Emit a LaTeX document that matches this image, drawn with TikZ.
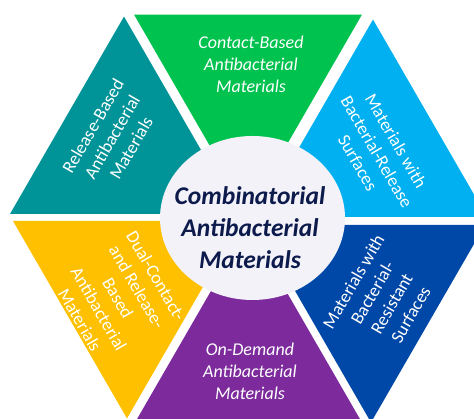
\documentclass[tikz,border=0pt]{standalone}
\usepackage{fontspec}
\setmainfont{Carlito}

\definecolor{cGreen}{RGB}{0,194,78}
\definecolor{cTeal}{RGB}{0,148,153}
\definecolor{cSky}{RGB}{0,176,240}
\definecolor{cNavy}{RGB}{0,72,168}
\definecolor{cPurple}{RGB}{124,42,156}
\definecolor{cYellow}{RGB}{255,192,0}
\definecolor{cHub}{RGB}{242,242,248}
\definecolor{cInk}{RGB}{12,26,76}

\begin{document}
\begin{tikzpicture}[x=1pt,y=1pt,
  segtext/.style={text=white, align=center, inner sep=0pt,
    font=\fontsize{18}{22}\selectfont},
  segtextit/.style={segtext, font=\fontsize{18}{22}\selectfont\itshape},
  hubtext/.style={text=cInk, align=center, inner sep=0pt,
    font=\fontsize{25.5}{32}\selectfont\bfseries\itshape}]
\useasboundingbox (0,0) rectangle (474,419);
\clip (0,0) rectangle (474,419);

% inner corners of the six wedges (each wedge pushed slightly outwards)
\coordinate (gA) at (248,207);
\coordinate (tA) at (238,205);
\coordinate (bA) at (259,202);
\coordinate (dA) at (257,194);
\coordinate (pA) at (248.5,193);
\coordinate (yA) at (241,198);

% the six equilateral wedges of the hexagon
\fill[cGreen]  (gA) -- ++(60:228)  -- ++(180:228) -- cycle;
\fill[cTeal]   (tA) -- ++(120:228) -- ++(240:228) -- cycle;
\fill[cSky]    (bA) -- ++(0:228)   -- ++(120:228) -- cycle;
\fill[cNavy]   (dA) -- ++(0:228)   -- ++(240:228) -- cycle;
\fill[cPurple] (pA) -- ++(-60:228) -- ++(180:228) -- cycle;
\fill[cYellow] (yA) -- ++(180:228) -- ++(300:228) -- cycle;

% central disc
\fill[cHub] (252.5,201) ellipse [x radius=92.5, y radius=82];
\node[hubtext] (hub) at (250,191) {Combinatorial\\Antibacterial\\Materials};

% wedge labels
\node[segtextit] (contact) at (251,355) {Contact-Based\\Antibacterial\\Materials};
\node[segtext, rotate=60] (release) at (112,282) {Release-Based\\Antibacterial\\Materials};
\node[segtext, rotate=-60] (relsurf) at (377,267) {Materials with\\Bacterial-Release\\Surfaces};
\node[segtext, rotate=60] (resist) at (382,121) {Materials with\\Bacterial-\\Resistant\\Surfaces};
\node[segtextit] (demand) at (250,47.5) {On-Demand\\Antibacterial\\Materials};
\node[segtext, rotate=-60] (dual) at (118,121) {Dual-Contact-\\and Release-\\Based\\Antibacterial\\Materials};
\end{tikzpicture}
\end{document}
